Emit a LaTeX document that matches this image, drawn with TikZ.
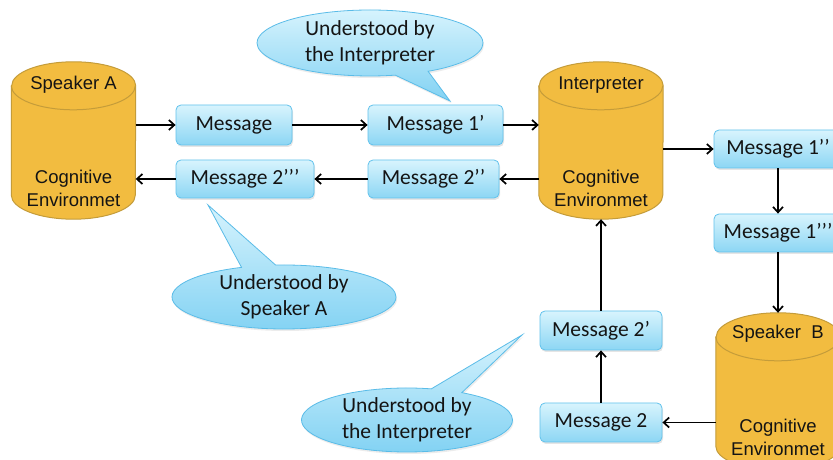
\documentclass[tikz,border=0pt]{standalone}
\usepackage{fontspec}
\setmainfont{Carlito}
\newfontfamily\arialf{Liberation Sans}
\usetikzlibrary{shapes.callouts,shadows,arrows.meta,calc}
\definecolor{msgtop}{RGB}{216,244,253}
\definecolor{msgbot}{RGB}{140,214,244}
\definecolor{msgborder}{RGB}{98,194,236}
\definecolor{bubtop}{RGB}{214,243,253}
\definecolor{bubbot}{RGB}{130,210,243}
\definecolor{bubborder}{RGB}{90,188,232}
\definecolor{cylfill}{RGB}{242,188,64}
\definecolor{cylborder}{RGB}{196,156,58}
\definecolor{txt}{RGB}{20,20,20}
\newcommand{\cylshape}[1]{%
  \filldraw[cylfill, draw=cylborder, line width=1pt]
    ($(#1.north west)+(0,-24)$) -- ($(#1.south west)+(0,24)$)
    arc[start angle=180,end angle=360,x radius=62,y radius=24]
    -- ($(#1.north east)+(0,-24)$)
    arc[start angle=0,end angle=180,x radius=62,y radius=24] -- cycle;
  \draw[draw=cylborder, line width=1pt]
    ($(#1.north west)+(0,-24)$)
    arc[start angle=180,end angle=360,x radius=62,y radius=24];
}
\begin{document}
\begin{tikzpicture}[x=1pt,y=1pt,
  msg/.style={rounded corners=5pt, draw=msgborder, line width=0.8pt,
    top color=msgtop, bottom color=msgbot, text=txt,
    font=\fontsize{21.5}{24}\selectfont, inner sep=0pt, minimum height=39pt,
    drop shadow={opacity=0.2, shadow xshift=1pt, shadow yshift=-2pt}},
  cylbox/.style={inner sep=0pt, minimum width=124pt, minimum height=157pt},
  cyltext/.style={font=\arialf\fontsize{18.5}{22.5}\selectfont, text=txt, align=center, inner sep=0pt},
  bubble/.style={ellipse callout, draw=bubborder, line width=0.8pt,
    top color=bubtop, bottom color=bubbot, text=txt,
    font=\fontsize{21.5}{26}\selectfont, align=center, inner sep=0pt,
    callout pointer arc=18,
    drop shadow={opacity=0.15, shadow xshift=1pt, shadow yshift=-2pt}},
  arr/.style={-{Straight Barb[length=5.5pt,width=10pt]}, line width=1.7pt, black}
]
\useasboundingbox (0,0) rectangle (833,460);
\clip (0,0) rectangle (833,460);
\fill[white] (0,0) rectangle (833,460);

% cylinders
\node[cylbox] (spA) at (73.5,319.5) {};
\node[cylbox] (ip) at (601,319.5) {};
\node[cylbox] (spB) at (778,68.5) {};
\cylshape{spA}
\cylshape{ip}
\cylshape{spB}
\node[cyltext] (spAt) at ($(spA.north)+(0,-23)$) {Speaker A};
\node[cyltext] (spAc) at ($(spA.south)+(0,31)$) {Cognitive\\Environmet};
\node[cyltext] (ipt) at ($(ip.north)+(0,-23)$) {Interpreter};
\node[cyltext] (ipc) at ($(ip.south)+(0,31)$) {Cognitive\\Environmet};
\node[cyltext] (spBt) at ($(spB.north)+(0,-21)$) {Speaker~ B};
\node[cyltext] (spBc) at ($(spB.south)+(0,33)$) {Cognitive\\Environmet};

% message boxes
\node[msg, minimum width=116pt, minimum height=40pt] (m0) at (234,335) {Message};
\node[msg, minimum width=135pt, minimum height=40pt] (m1p) at (435.5,335) {Message 1’};
\node[msg, minimum width=138pt, minimum height=38pt] (m2ppp) at (245,281) {Message 2’’’};
\node[msg, minimum width=131pt, minimum height=38pt] (m2pp) at (433.5,281) {Message 2’’};
\node[msg, minimum width=128pt, minimum height=38pt] (m1pp) at (778,311) {Message 1’’};
\node[msg, minimum width=128pt, minimum height=38pt] (m1ppp) at (778,227) {Message 1’’’};
\node[msg, minimum width=122pt] (m2p) at (601,129.5) {Message 2’};
\node[msg, minimum width=122pt] (m2) at (601,37.5) {Message 2};

% connectors
\draw[arr] (spA.east |- m0.west) -- (m0.west);
\draw[arr] (m0.east) -- (m1p.west);
\draw[arr] (m1p.east) -- (ip.west |- m1p.east);
\draw[arr] (ip.west |- m2pp.east) -- (m2pp.east);
\draw[arr] (m2pp.west) -- (m2ppp.east);
\draw[arr] (m2ppp.west) -- (spA.east |- m2ppp.west);
\draw[arr] (ip.east |- m1pp.west) -- (m1pp.west);
\draw[arr] (m1pp.south) -- (m1ppp.north);
\draw[arr] (m1ppp.south) -- (spB.north);
\draw[arr] (spB.west |- m2.east) -- (m2.east);
\draw[arr] (m2.north) -- (m2p.south);
\draw[arr] (m2p.north) -- (ip.south);

% callouts
\node[bubble, minimum width=226pt, minimum height=66pt,
  callout absolute pointer={(450,359)}] (c1) at (370,417) {Understood by\\the Interpreter};
\node[bubble, minimum width=224pt, minimum height=64pt,
  callout absolute pointer={(208,255)}] (c2) at (284,163) {Understood by\\Speaker A};
\node[bubble, minimum width=211pt, minimum height=64pt,
  callout absolute pointer={(522,125)}] (c3) at (407,40) {Understood by\\the Interpreter};
\end{tikzpicture}
\end{document}
